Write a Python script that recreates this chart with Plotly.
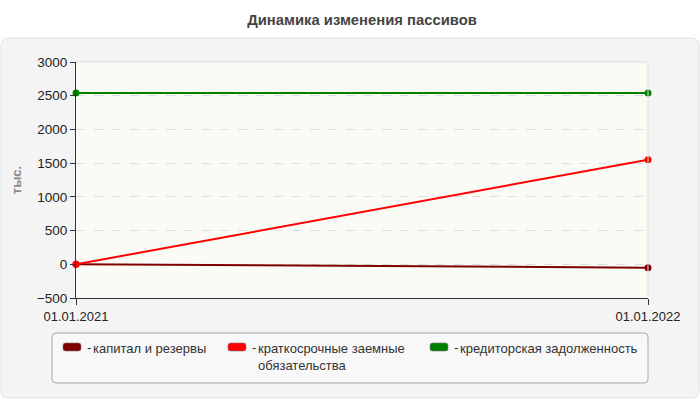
import plotly.graph_objects as go

# data
dates = ["01.01.2021", "01.01.2022"]
capital = [0, -50]            # капитал и резервы
short_loans = [0, 1550]       # краткосрочные заемные обязательства
payables = [2540, 2540]       # кредиторская задолженность

names = ["капитал и резервы", "краткосрочные заемные<br>обязательства", "кредиторская задолженность"]
colors = ["#800000", "#ff0000", "#008000"]
series = [capital, short_loans, payables]

W, H = 700, 400
L, R, T, B = 76, 52, 62, 102
pw, ph = W - L - R, H - T - B


def px(x):
    return (x - L) / pw


def py(y):
    return (H - B - y) / ph


def rounded(x0, y0, x1, y1, r):
    # rounded rectangle path in paper coords, given pixel corners
    pts = [
        f"M {px(x0 + r)} {py(y0)}",
        f"L {px(x1 - r)} {py(y0)}",
        f"Q {px(x1)} {py(y0)} {px(x1)} {py(y0 + r)}",
        f"L {px(x1)} {py(y1 - r)}",
        f"Q {px(x1)} {py(y1)} {px(x1 - r)} {py(y1)}",
        f"L {px(x0 + r)} {py(y1)}",
        f"Q {px(x0)} {py(y1)} {px(x0)} {py(y1 - r)}",
        f"L {px(x0)} {py(y0 + r)}",
        f"Q {px(x0)} {py(y0)} {px(x0 + r)} {py(y0)}",
        "Z",
    ]
    return " ".join(pts)


fig = go.Figure()
for vals, c in zip(series, colors):
    fig.add_trace(go.Scatter(
        x=dates, y=vals, mode="lines+markers",
        line=dict(color=c, width=2),
        marker=dict(color=c, size=7),
        showlegend=False, cliponaxis=False,
    ))

shapes = [
    # outer panel
    dict(type="path", xref="paper", yref="paper", layer="below",
         path=rounded(1, 38, 699, 398, 8),
         fillcolor="#f4f4f4", line=dict(color="#e2e2e2", width=1)),
    # plot area background
    dict(type="rect", xref="paper", yref="paper", layer="below",
         x0=0, x1=1, y0=0, y1=1, fillcolor="#fbfbf6", line=dict(width=0)),
    # plot area border (top and right)
    dict(type="line", xref="paper", yref="paper", x0=0, x1=1, y0=1, y1=1,
         line=dict(color="#dcdcdc", width=1)),
    dict(type="line", xref="paper", yref="paper", x0=1, x1=1, y0=0, y1=1,
         line=dict(color="#dcdcdc", width=1)),
    # legend box
    dict(type="path", xref="paper", yref="paper",
         path=rounded(52, 333, 648, 383, 4),
         fillcolor="#f8f8f8", line=dict(color="#a8a8a8", width=1)),
]

annotations = []
sym_x = [63, 228, 430]
for i, (n, c) in enumerate(zip(names, colors)):
    x0 = sym_x[i]
    shapes.append(dict(type="path", xref="paper", yref="paper",
                       path=rounded(x0, 343, x0 + 18, 351, 2.5),
                       fillcolor=c, line=dict(color="#777777", width=0.6)))
    annotations.append(dict(x=px(x0 + 22), y=py(347), xref="paper", yref="paper",
                            text="-", showarrow=False, xanchor="left", yanchor="middle",
                            font=dict(size=13, color="#333333")))
    annotations.append(dict(x=px(x0 + 28), y=py(339), xref="paper", yref="paper",
                            text=n, showarrow=False, xanchor="left", yanchor="top",
                            align="left", font=dict(size=13, color="#333333")))

fig.update_layout(
    width=W, height=H,
    margin=dict(l=L, r=R, t=T, b=B),
    paper_bgcolor="white",
    plot_bgcolor="#fbfbf6",
    font=dict(family="Liberation Sans, Arial, sans-serif", size=13, color="#222222"),
    title=dict(text="<b>Динамика изменения пассивов</b>", x=0.5, xref="paper",
               y=1 - 20 / H, yanchor="middle",
               font=dict(size=14.8, color="#444444")),
    xaxis=dict(type="category", range=[0, 1], showgrid=False, zeroline=False,
               showline=True, linecolor="#333333", linewidth=1,
               ticks="outside", ticklen=6, tickcolor="#333333",
               tickfont=dict(size=13, color="#222222")),
    yaxis=dict(range=[-500, 3000], dtick=500, tick0=0,
               showgrid=True, gridcolor="#dedede", griddash="dash", gridwidth=1,
               zeroline=False, showline=True, linecolor="#333333", linewidth=1,
               ticks="outside", ticklen=5, tickcolor="#333333",
               tickfont=dict(size=13.5, color="#222222"),
               title=dict(text="<b>тыс.</b>", standoff=12,
                          font=dict(size=13, color="#888888"))),
    shapes=shapes,
    annotations=annotations,
)

fig.write_html("out.html", config={"displayModeBar": False},
               post_script="document.body.style.margin='0';")
